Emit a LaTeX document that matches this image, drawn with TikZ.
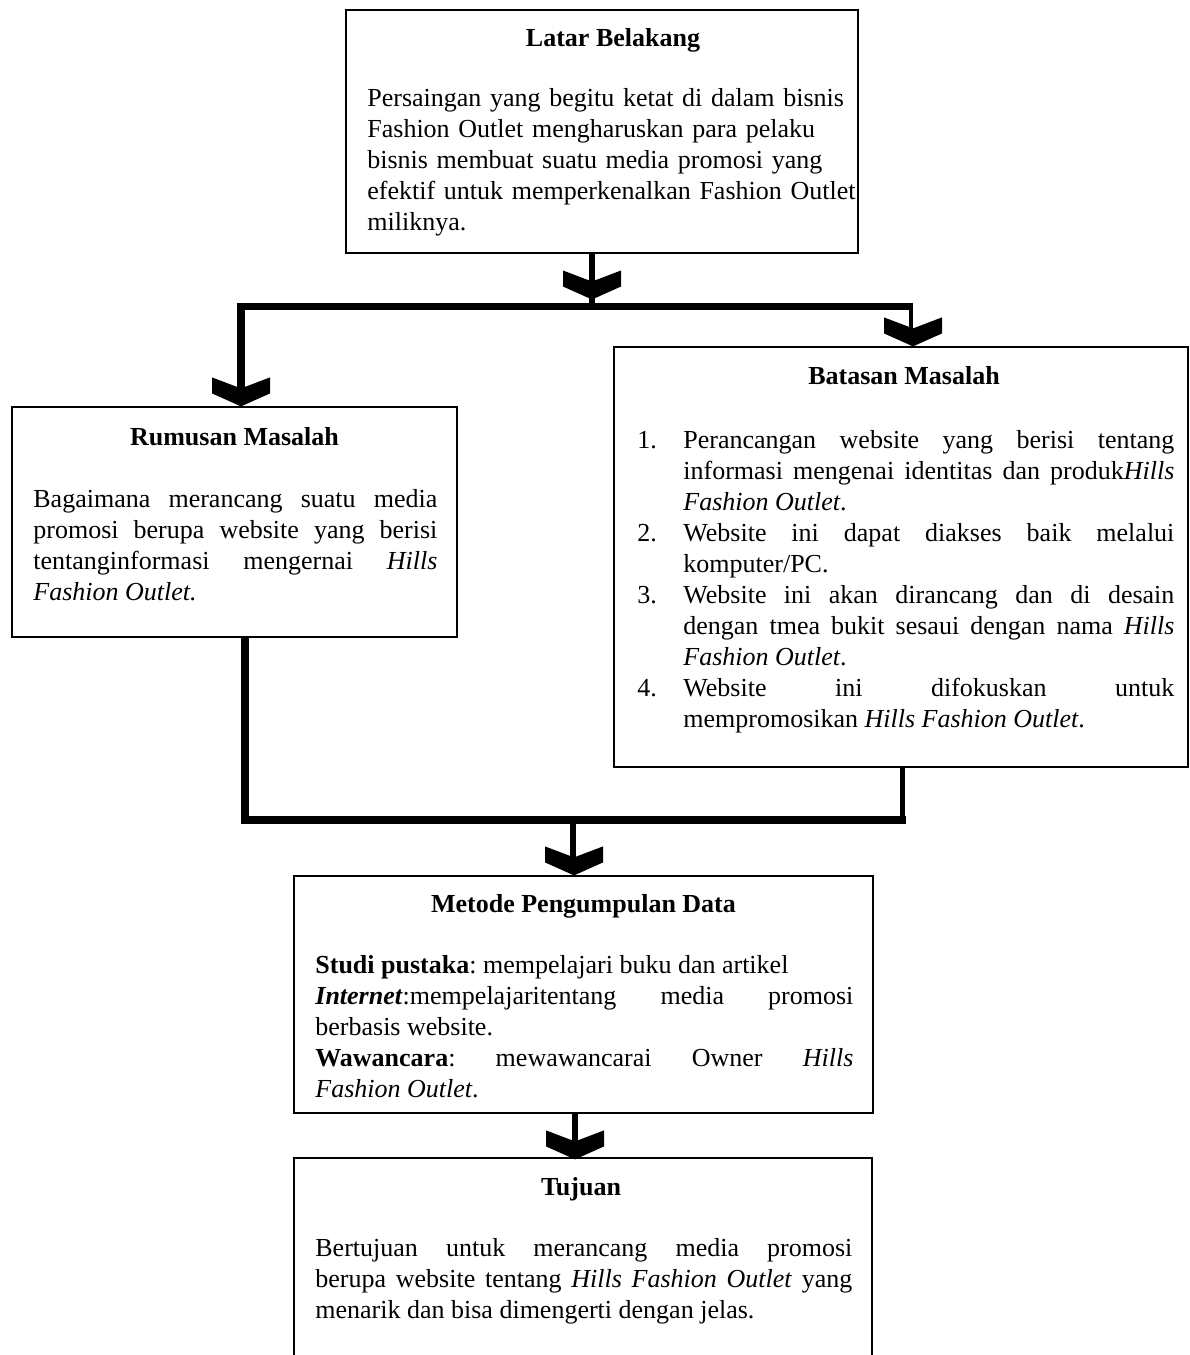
\documentclass[tikz,border=0pt]{standalone}
\usepackage{fontspec}
\setmainfont{Liberation Serif}
\newcommand\bodyfont{\fontsize{13.0}{15.5}\selectfont\frenchspacing}
\begin{document}
\begin{tikzpicture}[x=0.5pt,y=-0.5pt,
  box/.style={draw, line width=0.6pt, inner sep=0pt, fill=white},
  ttl/.style={inner sep=0pt, anchor=base, font=\bodyfont\bfseries},
  body/.style={inner sep=0pt, anchor=base west, font=\bodyfont, align=justify},
  bar/.style={line width=3.6pt},
  stem/.style={line width=3pt},
  chev/.pic={\fill (0,0) -- (-29,-13) -- (-29,-29) -- (0,-18) -- (29,-29) -- (29,-13) -- cycle;}
]
\useasboundingbox (0,0) rectangle (1189,1355);
\clip (0,0) rectangle (1189,1355);
\fill[white] (0,0) rectangle (1189,1355);

% boxes
\node[box, minimum width=256pt, minimum height=121.5pt] (latar) at (602,131.5) {};
\node[box, minimum width=222.5pt, minimum height=115pt] (rumusan) at (234.5,522) {};
\node[box, minimum width=287pt, minimum height=210pt] (batasan) at (901,557) {};
\node[box, minimum width=289.5pt, minimum height=118.5pt] (metode) at (583.5,994.5) {};
\node[box, minimum width=289pt, minimum height=106pt] (tujuan) at (583,1264) {};

% titles
\node[ttl] (latarT) at (613,46) {Latar Belakang};
\node[ttl] (rumusanT) at (234.5,445) {Rumusan Masalah};
\node[ttl] (batasanT) at (904,384) {Batasan Masalah};
\node[ttl] (metodeT) at (583.5,912) {Metode Pengumpulan Data};
\node[ttl] (tujuanT) at (581,1195) {Tujuan};

% bodies
\node[body, align=left, text width=262pt] (latarB) at (367,106) {Persaingan yang begitu ketat di dalam bisnis\\
Fashion Outlet mengharuskan para pelaku\\
bisnis membuat suatu media promosi yang\\
efektif untuk memperkenalkan Fashion Outlet\\
miliknya.};

\node[body, text width=202pt] (rumusanB) at (33,507) {Bagaimana merancang suatu media \linebreak
promosi berupa website yang berisi \linebreak
tentanginformasi mengernai \textit{Hills} \linebreak
\textit{Fashion Outlet.}\par};

\node[body, text width=268.5pt] (batasanB) at (637,448) {%
\hangindent=23pt\hangafter=1\makebox[23pt][l]{1.}Perancangan website yang berisi tentang \linebreak
informasi mengenai identitas dan produk\textit{Hills} \linebreak
\textit{Fashion Outlet}.\par
\hangindent=23pt\hangafter=1\makebox[23pt][l]{2.}Website ini dapat diakses baik melalui \linebreak
komputer/PC.\par
\hangindent=23pt\hangafter=1\makebox[23pt][l]{3.}Website ini akan dirancang dan di desain \linebreak
dengan tmea bukit sesaui dengan nama \textit{Hills} \linebreak
\textit{Fashion Outlet}.\par
\hangindent=23pt\hangafter=1\makebox[23pt][l]{4.}Website ini difokuskan untuk \linebreak
mempromosikan \textit{Hills Fashion Outlet}.\par};

\node[body, text width=269pt] (metodeB) at (315,973) {\textbf{Studi pustaka}: mempelajari buku dan artikel\par
\textbf{\textit{Internet}}:mempelajaritentang media promosi \linebreak
berbasis website.\par
\textbf{Wawancara}: mewawancarai Owner \textit{Hills} \linebreak
\textit{Fashion Outlet}.\par};

\node[body, text width=268.5pt] (tujuanB) at (315,1256) {Bertujuan untuk merancang media promosi \linebreak
berupa website tentang \textit{Hills Fashion Outlet} yang \linebreak
menarik dan bisa dimengerti dengan jelas.\par};

% connectors, upper
\coordinate (j1) at (592,306.5);
\coordinate (bL) at (237,306.5);
\coordinate (bR) at (913,306.5);
\coordinate (vL) at (241,303);
\coordinate (vR) at (911,303);
\draw[stem] (latar.south -| j1) -- (j1);
\draw[bar] (bL) -- (bR);
\draw[line width=4pt, shorten >=8pt] (vL) -- (rumusan.north -| vL);
\draw[line width=2pt, shorten >=8pt] (vR) -- (batasan.north -| vR);
\pic at ([yshift=3.5pt]j1) {chev};
\pic at (rumusan.north -| vL) {chev};
\pic at (batasan.north -| 913,0) {chev};

% connectors, lower
\coordinate (cL) at (245,820);
\coordinate (cR) at (902,820);
\coordinate (dL) at (241,820);
\coordinate (dR) at (906,820);
\coordinate (j2) at (573,820);
\draw[line width=4pt] (rumusan.south -| cL) -- (cL);
\draw[line width=2.5pt] (batasan.south -| cR) -- (cR);
\draw[bar] (dL) -- (dR);
\draw[stem, shorten >=8pt] (j2) -- (metode.north -| j2);
\pic at (metode.north -| 574,0) {chev};

\coordinate (j3) at (575,1113);
\draw[stem, shorten >=8pt] (metode.south -| j3) -- (tujuan.north -| j3);
\pic at ([yshift=-1pt]tujuan.north -| j3) {chev};
\end{tikzpicture}
\end{document}
